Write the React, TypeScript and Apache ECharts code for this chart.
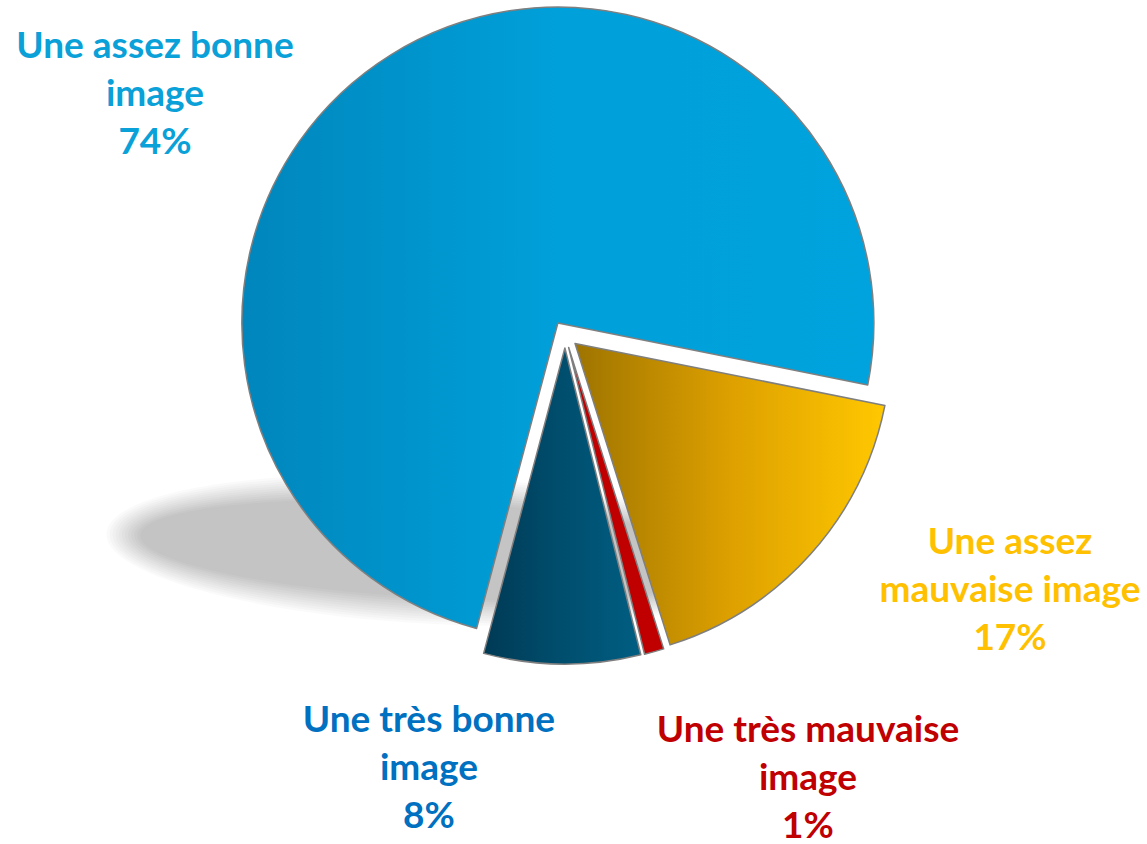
import React, { useEffect, useRef } from "react";
import * as echarts from "echarts";

// ---- data ----
const categories = [
  "Une assez bonne\nimage",
  "Une assez\nmauvaise image",
  "Une très mauvaise\nimage",
  "Une très bonne\nimage",
];
const values = [74, 17, 1, 8];

// ---- styling / layout (not data) ----
const sliceGradients: string[][] = [
  ["#0086bc", "#00a0da", "#00a3dd"],
  ["#9e7400", "#dda000", "#ffc800"],
  ["#c00000", "#c00000", "#c00000"],
  ["#003a55", "#004e6e", "#005e82"],
];
const labelColors = ["#0aa0d8", "#ffc000", "#c00000", "#0070c0"];
const labelCenters = [
  [155, 91],
  [1010, 587],
  [808, 775],
  [429, 765],
];

const App: React.FC = () => {
  const ref = useRef<HTMLDivElement>(null);

  useEffect(() => {
    if (!ref.current) return;
    const chart = echarts.init(ref.current, undefined, { renderer: "svg" });

    const elements: any[] = [];
    const layers = 12;
    for (let i = 0; i < layers; i++) {
      const t = i / (layers - 1);
      elements.push({
        type: "ellipse",
        z: -10,
        x: 436,
        y: 550,
        rotation: -0.05,
        shape: { cx: 0, cy: 0, rx: 330 - 34 * t, ry: 74 - 26 * t },
        style: { fill: "rgba(0,0,0,0.018)" },
        silent: true,
      });
    }

    categories.forEach((name, i) => {
      elements.push({
        type: "text",
        z: 100,
        x: labelCenters[i][0],
        y: labelCenters[i][1],
        silent: true,
        style: {
          text: `${name}\n${values[i]}%`,
          fill: labelColors[i],
          fontFamily: "Lato",
          fontWeight: "bold",
          fontSize: 37,
          lineHeight: 48,
          align: "center",
          verticalAlign: "middle",
          textAlign: "center",
          textVerticalAlign: "middle",
        },
      });
    });

    const data = values.map((v, i) => ({
      name: categories[i],
      value: v,
      selected: true,
      itemStyle: {
        color: new echarts.graphic.LinearGradient(0, 0, 1, 0, [
          { offset: 0, color: sliceGradients[i][0] },
          { offset: 0.5, color: sliceGradients[i][1] },
          { offset: 1, color: sliceGradients[i][2] },
        ]),
      },
    }));

    chart.setOption({
      animation: false,
      backgroundColor: "#ffffff",
      graphic: { elements },
      series: [
        {
          type: "pie",
          center: [565, 334.5],
          radius: 316,
          startAngle: 255.1,
          clockwise: true,
          selectedMode: "multiple",
          selectedOffset: 13.5,
          avoidLabelOverlap: false,
          emphasis: { disabled: true },
          itemStyle: { borderColor: "#7f7f7f", borderWidth: 1.5 },
          select: { itemStyle: { borderColor: "#7f7f7f", borderWidth: 1.5 } },
          label: { show: false },
          labelLine: { show: false },
          data,
        },
      ],
    });

    return () => chart.dispose();
  }, []);

  return (
    <div
      ref={ref}
      style={{ position: "fixed", left: 0, top: 0, width: 1147, height: 844 }}
    />
  );
};

export default App;
